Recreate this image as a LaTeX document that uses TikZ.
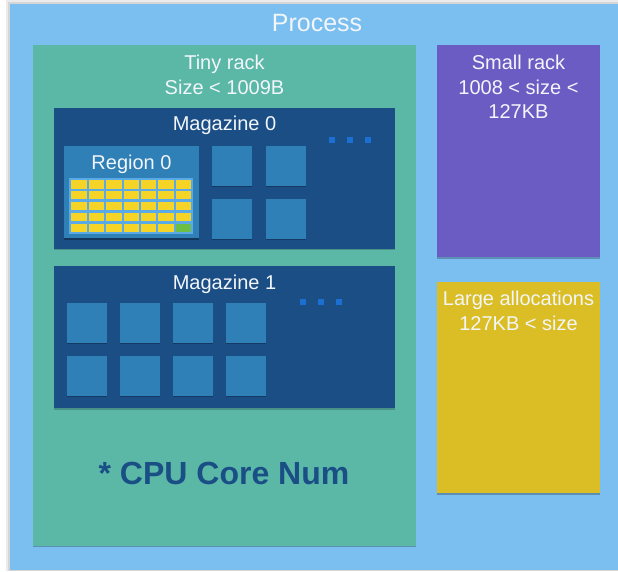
\documentclass[tikz,border=0pt]{standalone}
\usepackage{fontspec}
\setmainfont{Liberation Sans}
\definecolor{procblue}{HTML}{7BBFF0}
\definecolor{teal}{HTML}{5BB8A7}
\definecolor{magblue}{HTML}{1C4E86}
\definecolor{sqblue}{HTML}{2E80B6}
\definecolor{purple}{HTML}{6B5CC3}
\definecolor{gold}{HTML}{DBBE25}
\definecolor{cellyellow}{HTML}{F5D327}
\definecolor{cellgreen}{HTML}{6DBE45}
\definecolor{gridblue}{HTML}{5AAAE8}
\definecolor{dotblue}{HTML}{1A6FD0}
\definecolor{txtwhite}{HTML}{F2F6FA}
\definecolor{cpublue}{HTML}{1A4F86}
\begin{document}
\begin{tikzpicture}[x=1pt,y=-1pt,
  lbl/.style={text=txtwhite, font=\fontsize{20}{25}\selectfont, inner sep=0pt, anchor=base},
  sq/.style={fill=sqblue},
  sqshadow/.style={fill=black, fill opacity=0.25},
  dot/.style={fill=dotblue}]
\useasboundingbox (0,0) rectangle (618,571);
\fill[white] (0,0) rectangle (618,571);
\fill[black!8] (6,0) rectangle (618,571);
\fill[black!16] (8,2) rectangle (618,571);
% process
\fill[procblue] (10,4) rectangle (618,570);
\node[lbl, font=\fontsize{25}{28}\selectfont] (process) at (317,31.5) {Process};
% tiny rack
\fill[black, opacity=0.25] (33,46.5) rectangle (416,547);
\fill[teal] (33,45) rectangle (416,545.5);
\node[lbl] (tiny1) at (224.5,69) {Tiny rack};
\node[lbl] (tiny2) at (224.5,94) {Size < 1009B};
% magazine 0
\fill[black, opacity=0.2] (54,109) rectangle (395,250);
\fill[magblue] (54,108) rectangle (395,248.5);
\node[lbl] (mag0) at (224.5,130) {Magazine 0};
% region 0
\fill[black, opacity=0.3] (64,147) rectangle (199,239.5);
\fill[sqblue] (64,146) rectangle (199,238);
\node[lbl] (reg0) at (131.5,169) {Region 0};
\fill[gridblue] (69.3,177.7) rectangle (192.7,234);
\foreach \i in {0,...,6}{
  \foreach \j in {0,...,4}{
    \fill[cellyellow] ({71.3+\i*17.4},{180+\j*10.9}) rectangle ++(15.4,8.5);
  }
}
\fill[cellgreen] ({71.3+6*17.4},{180+4*10.9}) rectangle ++(15.4,8.5);
% magazine 0 squares
\foreach \x in {212,266}{
  \foreach \y in {146,199}{
    \fill[sqshadow] (\x,\y+1) rectangle ++(40,40);
    \fill[sq] (\x,\y) rectangle ++(40,39.5);
  }
}
\foreach \x in {332,350,368}{
  \fill[dot] (\x-2.7,137.3) rectangle ++(5.4,5.4);
}
% magazine 1
\fill[black, opacity=0.2] (54,267) rectangle (395,409.5);
\fill[magblue] (54,266) rectangle (395,408);
\node[lbl] (mag1) at (224.5,289) {Magazine 1};
\foreach \x in {67,120,173,226}{
  \foreach \y in {303,356}{
    \fill[sqshadow] (\x,\y+1) rectangle ++(39.5,40);
    \fill[sq] (\x,\y) rectangle ++(39.5,39.5);
  }
}
\foreach \x in {303,321,339}{
  \fill[dot] (\x-2.7,299.3) rectangle ++(5.4,5.4);
}
\node[text=cpublue, font=\fontsize{32}{36}\selectfont\bfseries, inner sep=0pt, anchor=base] (cpu) at (224,484) {* CPU Core Num};
% small rack
\fill[black, opacity=0.25] (437,46.5) rectangle (600,258.5);
\fill[purple] (437,45) rectangle (600,257);
\node[lbl] (small1) at (518.5,69) {Small rack};
\node[lbl] (small2) at (518.5,94) {1008 < size <};
\node[lbl] (small3) at (518.5,118) {127KB};
% large allocations
\fill[black, opacity=0.25] (437,283.5) rectangle (600,494.5);
\fill[gold] (437,282) rectangle (600,493);
\node[lbl] (large1) at (518.5,305) {Large allocations};
\node[lbl] (large2) at (518.5,330) {127KB < size};
\end{tikzpicture}
\end{document}
